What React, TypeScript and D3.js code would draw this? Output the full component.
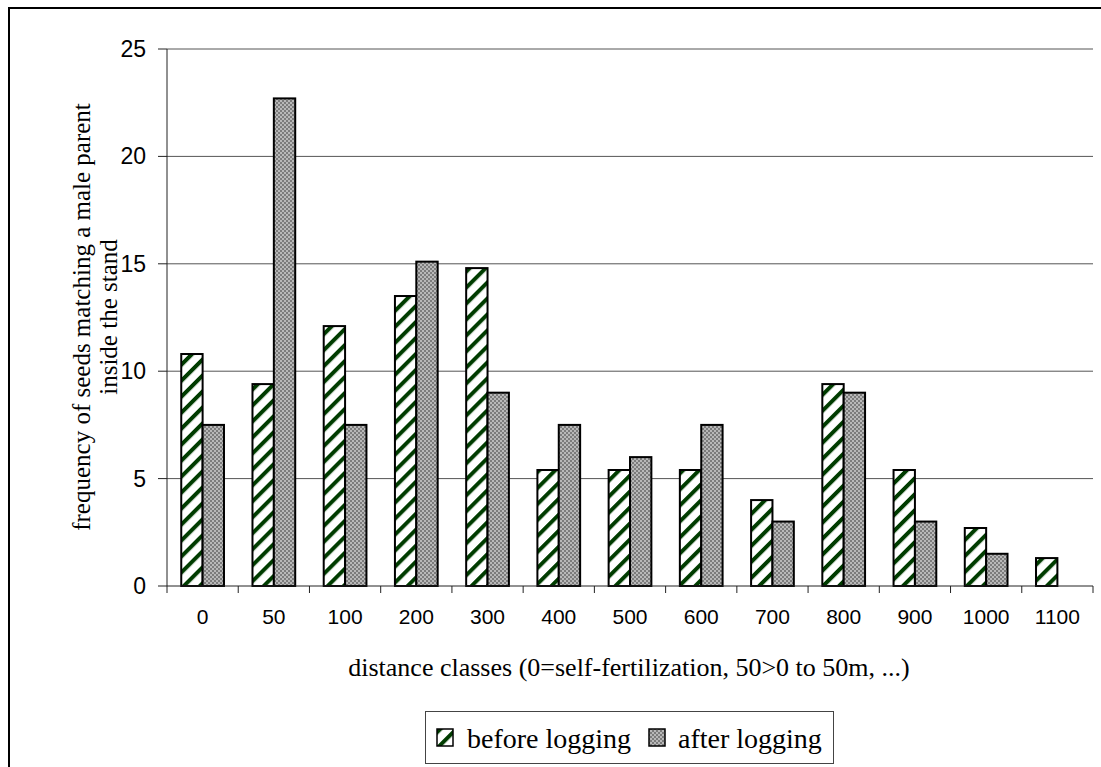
import React from "react";
import * as d3 from "d3";

const categories = ["0", "50", "100", "200", "300", "400", "500", "600", "700", "800", "900", "1000", "1100"];
const beforeLogging = [10.8, 9.4, 12.1, 13.5, 14.8, 5.4, 5.4, 5.4, 4.0, 9.4, 5.4, 2.7, 1.3];
const afterLogging: (number | null)[] = [7.5, 22.7, 7.5, 15.1, 9.0, 7.5, 6.0, 7.5, 3.0, 9.0, 3.0, 1.5, null];
const yTicks = [0, 5, 10, 15, 20, 25];
const seriesNames = ["before logging", "after logging"];

const W = 1101;
const H = 767;
const plot = { left: 167, right: 1093, top: 49, bottom: 586 };

export default function App() {
  const x0 = d3
    .scaleBand<string>()
    .domain(categories)
    .range([plot.left, plot.right])
    .paddingInner(0.4)
    .paddingOuter(0.2);
  const x1 = d3.scaleBand<string>().domain(seriesNames).range([0, x0.bandwidth()]);
  const y = d3.scaleLinear().domain([0, 25]).range([plot.bottom, plot.top]);
  const step = x0.step();
  const fills = ["url(#stripes)", "url(#checks)"];
  const serif = "'Liberation Serif', 'Times New Roman', serif";
  const sans = "'Liberation Sans', Arial, sans-serif";

  const bars: React.ReactNode[] = [];
  categories.forEach((c, i) => {
    [beforeLogging[i], afterLogging[i]].forEach((v, s) => {
      if (v === null || v === undefined) return;
      const bx = (x0(c) as number) + (x1(seriesNames[s]) as number);
      bars.push(
        <rect
          key={c + "-" + s}
          x={bx}
          y={y(v)}
          width={x1.bandwidth()}
          height={y(0) - y(v)}
          fill={fills[s]}
          stroke="#000"
          strokeWidth={2}
        />
      );
    });
  });

  return (
    <svg
      width={W}
      height={H}
      style={{ position: "absolute", left: 0, top: 0, background: "#fff" }}
    >
      <defs>
        <pattern
          id="stripes"
          patternUnits="userSpaceOnUse"
          width={11.3}
          height={11.3}
          patternTransform="rotate(45)"
        >
          <rect width={11.3} height={11.3} fill="#fff" />
          <rect x={0} y={0} width={4} height={11.3} fill="#003c00" />
        </pattern>
        <pattern id="checks" patternUnits="userSpaceOnUse" width={4} height={4}>
          <rect width={4} height={4} fill="#7c7c7c" />
          <rect x={0} y={0} width={2} height={2} fill="#b8b8b8" />
          <rect x={2} y={2} width={2} height={2} fill="#b8b8b8" />
        </pattern>
      </defs>
      <rect x={0} y={0} width={W} height={H} fill="#fff" />
      {/* outer border */}
      <rect x={9} y={8} width={W + 20} height={H + 20} fill="none" stroke="#000" strokeWidth={2} />

      {/* gridlines */}
      {yTicks.filter((t) => t > 0).map((t) => (
        <line key={"g" + t} x1={plot.left} x2={plot.right} y1={y(t)} y2={y(t)} stroke="#555" strokeWidth={1} />
      ))}

      {bars}

      {/* y axis */}
      <line x1={plot.left} x2={plot.left} y1={plot.top} y2={plot.bottom} stroke="#222" strokeWidth={1} />
      {yTicks.map((t) => (
        <g key={"yt" + t}>
          <line x1={plot.left - 9} x2={plot.left} y1={y(t)} y2={y(t)} stroke="#222" strokeWidth={1} />
          <text x={146} y={y(t)} textAnchor="end" dominantBaseline="central" style={{ fontFamily: sans }} fontSize={23} fill="#000">
            {t}
          </text>
        </g>
      ))}

      {/* x axis */}
      <line x1={plot.left} x2={plot.right} y1={plot.bottom} y2={plot.bottom} stroke="#222" strokeWidth={1} />
      {d3.range(categories.length + 1).map((i) => (
        <line
          key={"xt" + i}
          x1={plot.left + i * step}
          x2={plot.left + i * step}
          y1={plot.bottom}
          y2={plot.bottom + 7}
          stroke="#222"
          strokeWidth={1}
        />
      ))}
      {categories.map((c) => (
        <text
          key={"xl" + c}
          x={(x0(c) as number) + x0.bandwidth() / 2}
          y={616}
          textAnchor="middle"
          dominantBaseline="central"
          style={{ fontFamily: sans }}
          fontSize={21}
          fill="#000"
        >
          {c}
        </text>
      ))}

      {/* axis titles */}
      <text x={629} y={667} textAnchor="middle" dominantBaseline="central" style={{ fontFamily: serif }} fontSize={26} fill="#000">
        distance classes (0=self-fertilization, 50&gt;0 to 50m, ...)
      </text>
      <g transform="translate(81,317) rotate(-90)">
        <text x={0} y={0} textAnchor="middle" dominantBaseline="central" style={{ fontFamily: serif }} fontSize={25} fill="#000">
          frequency of seeds matching a male parent
        </text>
      </g>
      <g transform="translate(108,317) rotate(-90)">
        <text x={0} y={0} textAnchor="middle" dominantBaseline="central" style={{ fontFamily: serif }} fontSize={25} fill="#000">
          inside the stand
        </text>
      </g>

      {/* legend */}
      <rect x={425.5} y={711.5} width={408} height={52} fill="#fff" stroke="#444" strokeWidth={1} />
      <rect x={437} y={729} width={16} height={17} fill={fills[0]} stroke="#000" strokeWidth={1.5} />
      <text x={467} y={738} dominantBaseline="central" style={{ fontFamily: serif }} fontSize={28} fill="#000">
        {seriesNames[0]}
      </text>
      <rect x={649} y={729} width={16} height={17} fill={fills[1]} stroke="#000" strokeWidth={1.5} />
      <text x={678} y={738} dominantBaseline="central" style={{ fontFamily: serif }} fontSize={28} fill="#000">
        {seriesNames[1]}
      </text>
    </svg>
  );
}
